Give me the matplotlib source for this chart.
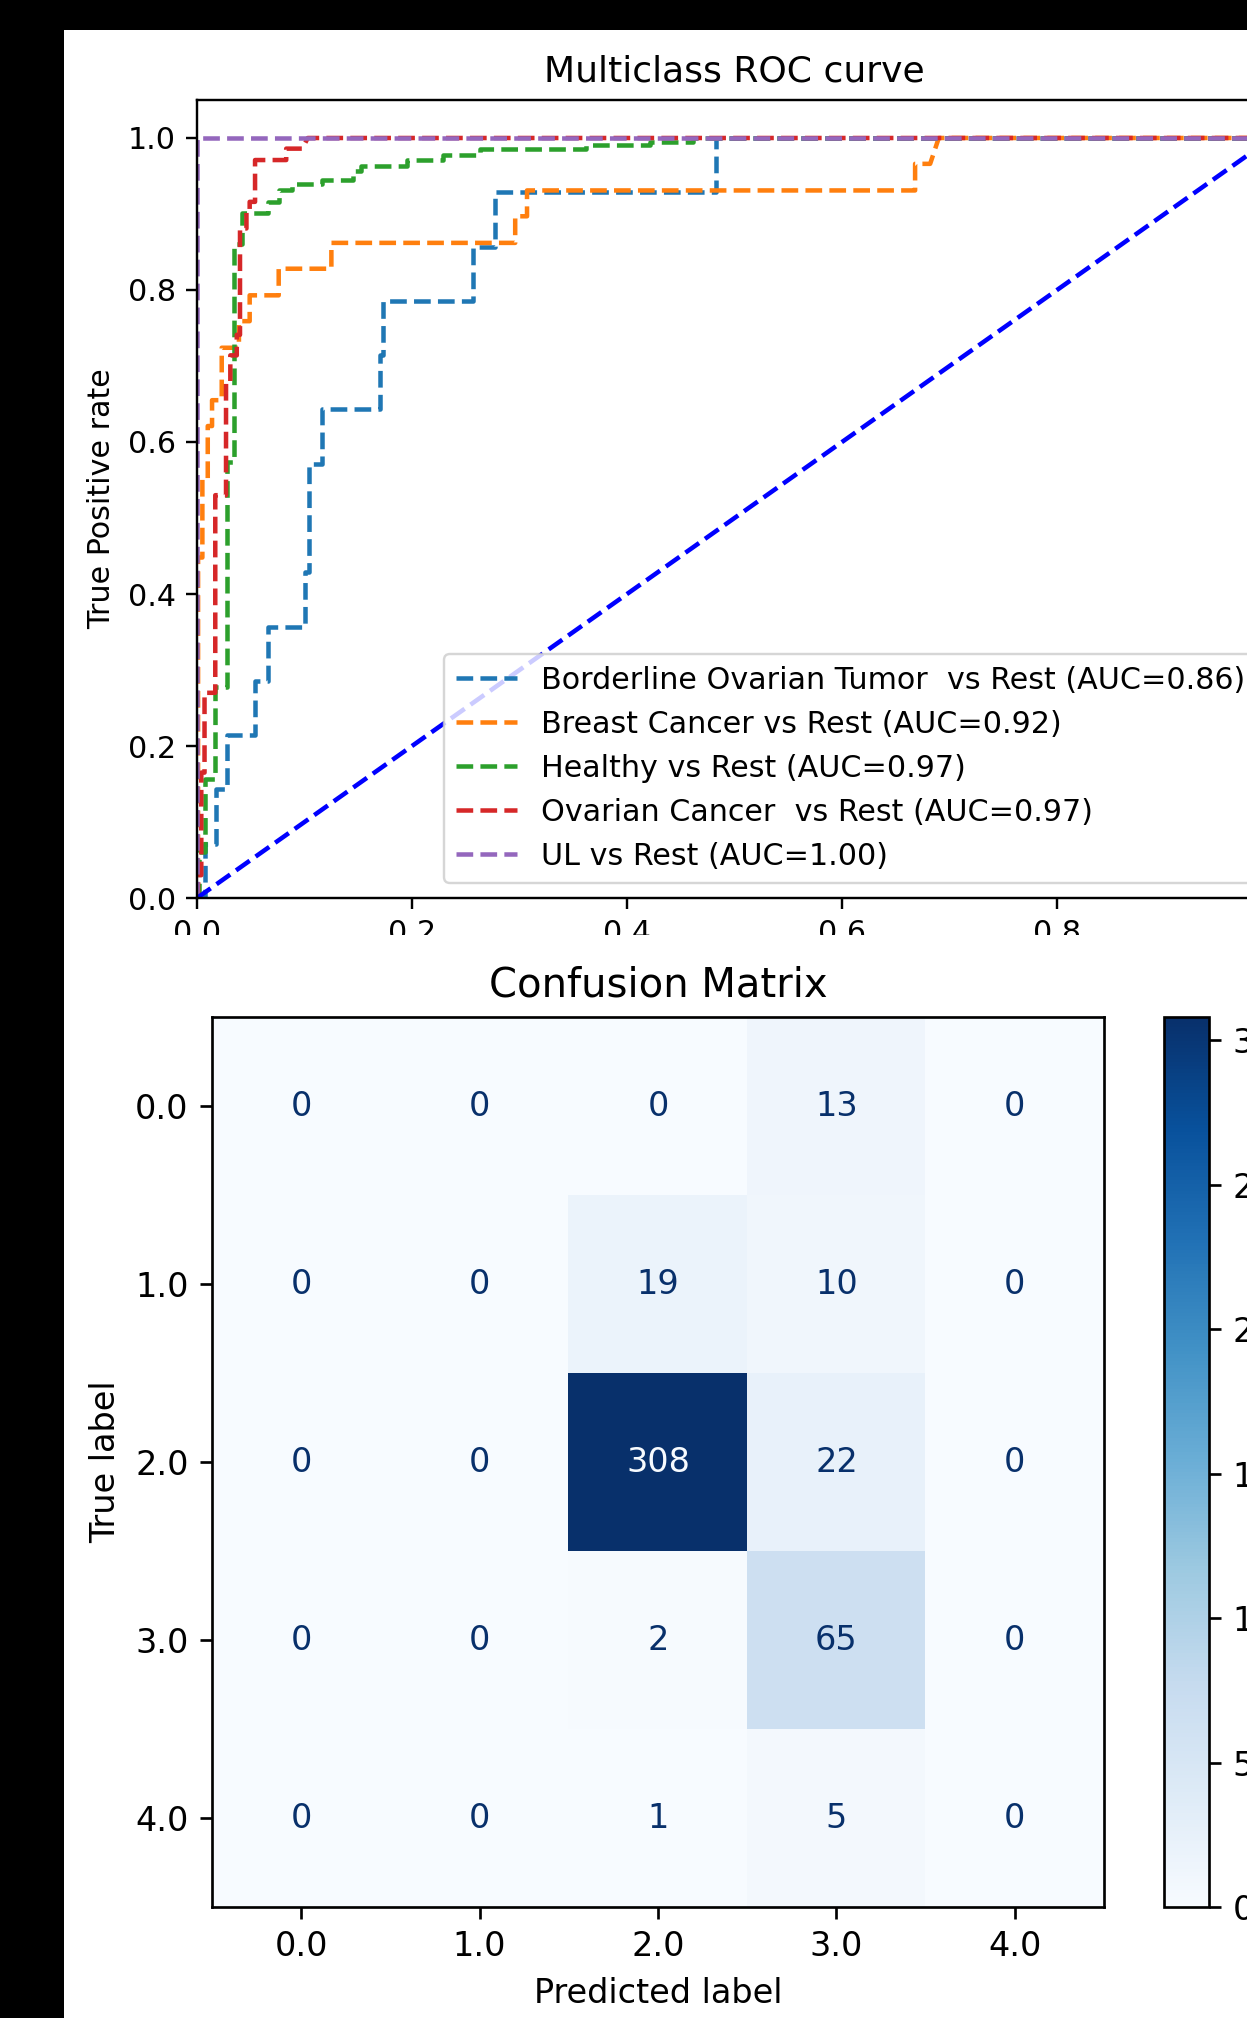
import numpy as np
import matplotlib
matplotlib.use("Agg")
import matplotlib.pyplot as plt
from matplotlib.patches import Rectangle

# ---- data ----
class_names = ["Borderline Ovarian Tumor ", "Breast Cancer", "Healthy", "Ovarian Cancer ", "UL"]
auc_values = [0.86, 0.92, 0.97, 0.97, 1.00]

fpr_borderline = [0, 0.007, 0.007, 0.018, 0.018, 0.028, 0.028, 0.054, 0.054, 0.066, 0.066, 0.100, 0.100,
                  0.104, 0.104, 0.116, 0.116, 0.170, 0.170, 0.173, 0.173, 0.257, 0.257, 0.277, 0.277,
                  0.483, 0.483, 1.0]
tpr_borderline = [0, 0, 0.071, 0.071, 0.143, 0.143, 0.214, 0.214, 0.286, 0.286, 0.357, 0.357, 0.429,
                  0.429, 0.571, 0.571, 0.643, 0.643, 0.714, 0.714, 0.786, 0.786, 0.857, 0.857, 0.929,
                  0.929, 1.0, 1.0]

fpr_breast = [0, 0.001, 0.001, 0.005, 0.005, 0.010, 0.010, 0.014, 0.014, 0.023, 0.023, 0.039, 0.039,
              0.049, 0.049, 0.076, 0.076, 0.125, 0.125, 0.296, 0.296, 0.307, 0.307, 0.668, 0.668,
              0.682, 0.690, 1.0]
tpr_breast = [0, 0, 0.448, 0.448, 0.552, 0.552, 0.621, 0.621, 0.655, 0.655, 0.724, 0.724, 0.759,
              0.759, 0.793, 0.793, 0.828, 0.828, 0.862, 0.862, 0.897, 0.897, 0.931, 0.931, 0.966,
              0.966, 1.0, 1.0]

fpr_healthy = [0, 0.002, 0.002, 0.007, 0.007, 0.017, 0.017, 0.028, 0.028, 0.034, 0.034, 0.042, 0.042,
               0.066, 0.066, 0.076, 0.076, 0.088, 0.088, 0.116, 0.116, 0.145, 0.145, 0.153, 0.153,
               0.195, 0.195, 0.229, 0.229, 0.263, 0.263, 0.362, 0.362, 0.421, 0.421, 0.461, 0.461, 1.0]
tpr_healthy = [0, 0, 0.06, 0.06, 0.156, 0.156, 0.278, 0.278, 0.574, 0.574, 0.86, 0.86, 0.901,
               0.901, 0.916, 0.916, 0.931, 0.931, 0.940, 0.940, 0.945, 0.945, 0.957, 0.957, 0.963,
               0.963, 0.971, 0.971, 0.977, 0.977, 0.985, 0.985, 0.991, 0.991, 0.995, 0.995, 1.0, 1.0]

fpr_ovarian = [0, 0.001, 0.001, 0.004, 0.004, 0.007, 0.007, 0.017, 0.017, 0.027, 0.027, 0.031, 0.031,
               0.037, 0.037, 0.040, 0.040, 0.046, 0.046, 0.049, 0.049, 0.054, 0.054, 0.083, 0.083,
               0.098, 0.103, 1.0]
tpr_ovarian = [0, 0, 0.03, 0.03, 0.165, 0.165, 0.27, 0.27, 0.53, 0.53, 0.68, 0.68, 0.714,
               0.714, 0.741, 0.741, 0.881, 0.881, 0.905, 0.905, 0.916, 0.916, 0.971, 0.971, 0.986,
               0.986, 1.0, 1.0]

fpr_ul = [0, 0, 1.0]
tpr_ul = [0, 1.0, 1.0]

roc_fpr = [fpr_borderline, fpr_breast, fpr_healthy, fpr_ovarian, fpr_ul]
roc_tpr = [tpr_borderline, tpr_breast, tpr_healthy, tpr_ovarian, tpr_ul]
colors = ["tab:blue", "tab:orange", "tab:green", "tab:red", "tab:purple"]

cm_labels = ["0.0", "1.0", "2.0", "3.0", "4.0"]
cm = np.array([[0, 0, 0, 13, 0],
               [0, 0, 19, 10, 0],
               [0, 0, 308, 22, 0],
               [0, 0, 2, 65, 0],
               [0, 0, 1, 5, 0]])

W, H = 1247, 2018
s1 = 2.167  # scale of the ROC screenshot
s2 = 2.41   # scale of the confusion matrix screenshot

fig = plt.figure(figsize=(W / 100, H / 100), dpi=100, facecolor="black")

def fbox(x0, y0, x1, y1):
    # pixel box (top-left origin) -> figure fraction [l, b, w, h]
    return [x0 / W, (H - y1) / H, (x1 - x0) / W, (y1 - y0) / H]

fig.add_artist(Rectangle((64 / W, 0), 1, (H - 30) / H, transform=fig.transFigure,
                         facecolor="white", edgecolor="none", zorder=-1))

# ---- ROC ----
ax = fig.add_axes(fbox(197, 100, 1272, 898), zorder=0)
for i in range(len(class_names)):
    ax.plot(roc_fpr[i], roc_tpr[i], linestyle="--", color=colors[i], lw=1.5 * s1,
            label=class_names[i] + " vs Rest (AUC=" + format(auc_values[i], ".2f") + ")")
ax.plot([0, 1], [0, 1], "b--", lw=1.5 * s1)
ax.set_xlim(0, 1)
ax.set_ylim(0, 1.05)
ax.set_xticks(np.arange(0, 1.01, 0.2))
ax.set_yticks(np.arange(0, 1.01, 0.2))
ax.tick_params(labelsize=10 * s1, length=3.5 * s1, width=0.8 * s1, pad=3.5 * s1)
for sp in ax.spines.values():
    sp.set_linewidth(0.8 * s1)
ax.set_title("Multiclass ROC curve", fontsize=12 * s1, pad=6 * s1)
ax.set_ylabel("True Positive rate", fontsize=10 * s1, labelpad=4 * s1)
leg = ax.legend(loc="lower right", fontsize=10 * s1)
leg.get_frame().set_linewidth(0.8 * s1)

# second screenshot covers the bottom of the first one
fig.add_artist(Rectangle((64 / W, 0), 1, (H - 935) / H, transform=fig.transFigure,
                         facecolor="white", edgecolor="none", zorder=0.5))

# ---- Confusion matrix ----
ax2 = fig.add_axes(fbox(212, 1017, 1104, 1907), zorder=1)
im = ax2.imshow(cm, cmap="Blues", aspect="auto", interpolation="nearest")
cmap = plt.get_cmap("Blues")
thresh = (cm.max() + cm.min()) / 2.0
for r in range(cm.shape[0]):
    for c in range(cm.shape[1]):
        col = cmap(0.0) if cm[r, c] >= thresh else cmap(1.0)
        ax2.text(c, r, str(cm[r, c]), ha="center", va="center", color=col, fontsize=10 * s2)
ax2.set_xticks(range(len(cm_labels)))
ax2.set_xticklabels(cm_labels)
ax2.set_yticks(range(len(cm_labels)))
ax2.set_yticklabels(cm_labels)
ax2.tick_params(labelsize=10 * s2, length=3.5 * s2, width=0.8 * s2, pad=3.5 * s2)
for sp in ax2.spines.values():
    sp.set_linewidth(0.8 * s2)
ax2.set_title("Confusion Matrix", fontsize=12 * s2, pad=6 * s2)
ax2.set_xlabel("Predicted label", fontsize=10 * s2, labelpad=4 * s2)
ax2.set_ylabel("True label", fontsize=10 * s2, labelpad=4 * s2)

cax = fig.add_axes(fbox(1164, 1017, 1209, 1907), zorder=1)
cb = fig.colorbar(im, cax=cax)
cb.outline.set_linewidth(0.8 * s2)
cax.tick_params(labelsize=10 * s2, length=3.5 * s2, width=0.8 * s2, pad=3.5 * s2)

fig.savefig("out.png", dpi=100, facecolor=fig.get_facecolor())
